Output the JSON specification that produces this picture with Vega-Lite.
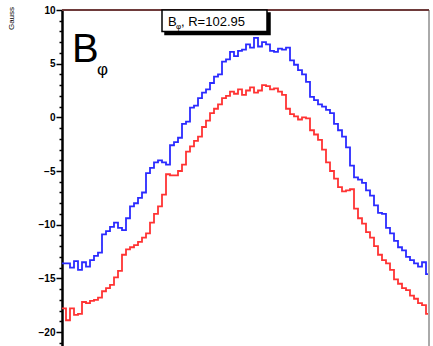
{
  "$schema": "https://vega.github.io/schema/vega-lite/v6.json",
  "width": 367,
  "height": 336,
  "autosize": {"type": "none"},
  "padding": {"left": 62, "top": 10, "right": 4, "bottom": 0},
  "background": "white",
  "config": {
    "view": {"stroke": null},
    "font": "Liberation Sans",
    "axisY": {
      "labelOverlap": false,
      "labelBound": false,
      "labelFlush": false,
      "labelFontSize": 10,
      "labelFontWeight": "bold",
      "labelColor": "#000",
      "labelPadding": 1,
      "domainColor": "#000",
      "domainWidth": 2.5,
      "tickColor": "#000",
      "tickWidth": 1.5,
      "grid": false,
      "titleFontSize": 8,
      "titleFontWeight": "normal",
      "titleAngle": -90,
      "titleAlign": "center",
      "titleBaseline": "alphabetic",
      "titleX": -49,
      "titleY": 8
    }
  },
  "datasets": {
    "curves": [
      {"x":0,"b":-13.6,"r":-17.8},{"x":4,"b":-13.6,"r":-18.9},{"x":8,"b":-14.0,"r":-17.8},{"x":12,"b":-13.4,"r":-18.4},{"x":16,"b":-14.2,"r":-18.3},
      {"x":20,"b":-13.5,"r":-17.2},{"x":24,"b":-13.9,"r":-17.3},{"x":28,"b":-13.3,"r":-17.1},{"x":32,"b":-12.9,"r":-17.0},{"x":36,"b":-12.6,"r":-16.8},
      {"x":40,"b":-10.9,"r":-16.2},{"x":44,"b":-10.6,"r":-15.9},{"x":48,"b":-10.2,"r":-15.6},{"x":52,"b":-9.8,"r":-14.9},{"x":56,"b":-10.3,"r":-14.3},
      {"x":60,"b":-10.5,"r":-12.8},{"x":64,"b":-9.4,"r":-12.3},{"x":68,"b":-8.3,"r":-12.1},{"x":72,"b":-8.0,"r":-11.9},{"x":76,"b":-7.5,"r":-11.6},
      {"x":80,"b":-7.0,"r":-11.2},{"x":84,"b":-5.2,"r":-10.8},{"x":88,"b":-4.7,"r":-9.8},{"x":92,"b":-4.2,"r":-9.0},{"x":96,"b":-4.0,"r":-8.3},
      {"x":100,"b":-4.2,"r":-7.2},{"x":104,"b":-4.4,"r":-5.3},{"x":108,"b":-2.6,"r":-5.4},{"x":112,"b":-2.3,"r":-5.4},{"x":116,"b":-1.9,"r":-5.0},
      {"x":120,"b":-0.6,"r":-4.4},{"x":124,"b":-0.4,"r":-3.2},{"x":128,"b":0.9,"r":-2.7},{"x":132,"b":1.1,"r":-2.2},{"x":136,"b":1.8,"r":-1.8},
      {"x":140,"b":2.3,"r":-0.9},{"x":144,"b":2.6,"r":-0.3},{"x":148,"b":3.2,"r":0.4},{"x":152,"b":3.8,"r":0.8},{"x":156,"b":4.0,"r":1.2},
      {"x":160,"b":5.2,"r":1.8},{"x":164,"b":5.4,"r":2.0},{"x":168,"b":6.1,"r":2.4},{"x":172,"b":5.7,"r":2.2},{"x":176,"b":6.2,"r":2.6},
      {"x":180,"b":6.3,"r":2.1},{"x":184,"b":6.8,"r":2.5},{"x":188,"b":6.5,"r":2.8},{"x":192,"b":7.4,"r":2.3},{"x":196,"b":6.6,"r":2.5},
      {"x":200,"b":7.0,"r":3.0},{"x":204,"b":6.8,"r":2.9},{"x":208,"b":6.2,"r":2.6},{"x":212,"b":6.1,"r":2.7},{"x":216,"b":6.4,"r":2.4},
      {"x":220,"b":6.3,"r":2.1},{"x":224,"b":6.5,"r":0.8},{"x":228,"b":5.3,"r":0.3},{"x":232,"b":4.9,"r":0.1},{"x":236,"b":4.4,"r":-0.2},
      {"x":240,"b":4.0,"r":0.0},{"x":244,"b":3.3,"r":-0.1},{"x":248,"b":1.9,"r":-1.2},{"x":252,"b":1.6,"r":-1.6},{"x":256,"b":1.2,"r":-2.1},
      {"x":260,"b":1.0,"r":-3.0},{"x":264,"b":0.7,"r":-4.2},{"x":268,"b":0.4,"r":-5.0},{"x":272,"b":-0.6,"r":-5.7},{"x":276,"b":-1.2,"r":-6.5},
      {"x":280,"b":-1.8,"r":-6.9},{"x":284,"b":-2.8,"r":-6.8},{"x":288,"b":-4.5,"r":-6.7},{"x":292,"b":-5.6,"r":-8.5},{"x":296,"b":-5.8,"r":-9.4},
      {"x":300,"b":-6.1,"r":-9.9},{"x":304,"b":-6.8,"r":-10.7},{"x":308,"b":-7.3,"r":-11.2},{"x":312,"b":-8.2,"r":-12.0},{"x":316,"b":-8.9,"r":-12.8},
      {"x":320,"b":-9.0,"r":-13.3},{"x":324,"b":-10.3,"r":-13.6},{"x":328,"b":-10.8,"r":-14.2},{"x":332,"b":-11.5,"r":-15.1},{"x":336,"b":-12.1,"r":-15.5},
      {"x":340,"b":-12.4,"r":-15.9},{"x":344,"b":-13.0,"r":-16.1},{"x":348,"b":-13.3,"r":-16.6},{"x":352,"b":-13.6,"r":-16.9},{"x":356,"b":-13.9,"r":-17.3},
      {"x":360,"b":-13.5,"r":-17.5},{"x":364,"b":-14.6,"r":-18.3},{"x":367,"b":-14.6,"r":-18.3}
    ],
    "notes": [
      {"x":10,"y":5.19,"t":"B","size":40},
      {"x":35,"y":3.9,"t":"φ","size":17}
    ],
    "box": [
      {"x1":103,"x2":208,"y1":9.72,"y2":7.71,"k":"shadow"},
      {"x1":100,"x2":205,"y1":10,"y2":7.99,"k":"box"}
    ],
    "boxtext": [
      {"x":106,"y":8.55,"t":"B","size":13},
      {"x":114,"y":8.25,"t":"φ","size":8},
      {"x":119,"y":8.55,"t":", R=102.95","size":13}
    ],
    "one": [{"edge": 367, "top": 10}]
  },
  "layer": [
    {
      "data": {"name": "curves"},
      "transform": [{"fold": ["b", "r"], "as": ["s", "v"]}],
      "mark": {"type": "line", "interpolate": "step-after", "strokeWidth": 1.8, "clip": true},
      "encoding": {
        "x": {"field": "x", "type": "quantitative", "scale": {"domain": [0, 367], "nice": false, "zero": false}, "axis": null},
        "y": {
          "field": "v", "type": "quantitative",
          "scale": {"domain": [-21.3, 10], "nice": false, "zero": false},
          "axis": {
            "values": [-21,-20,-19,-18,-17,-16,-15,-14,-13,-12,-11,-10,-9,-8,-7,-6,-5,-4,-3,-2,-1,0,1,2,3,4,5,6,7,8,9,10],
            "tickCount": 100,
            "format": "d",
            "labelExpr": "datum.value % 5 === 0 ? datum.label : ''",
            "tickSize": {"condition": {"test": "datum.value % 5 === 0", "value": 6}, "value": 3},
            "title": "Gauss"
          }
        },
        "color": {"field": "s", "type": "nominal", "scale": {"domain": ["b", "r"], "range": ["#2b2bff", "#ff3333"]}, "legend": null}
      }
    },
    {
      "data": {"name": "one"},
      "mark": {"type": "rule", "color": "#aaaaaa", "strokeWidth": 2},
      "encoding": {"x": {"field": "edge", "type": "quantitative"}}
    },
    {
      "data": {"name": "one"},
      "mark": {"type": "rule", "color": "#6e3a3a", "strokeWidth": 2},
      "encoding": {"y": {"field": "top", "type": "quantitative"}}
    },
    {
      "data": {"name": "box"},
      "mark": {"type": "rect", "strokeWidth": 1.5},
      "encoding": {
        "x": {"field": "x1", "type": "quantitative"},
        "x2": {"field": "x2"},
        "y": {"field": "y1", "type": "quantitative"},
        "y2": {"field": "y2"},
        "fill": {"field": "k", "type": "nominal", "scale": {"domain": ["shadow", "box"], "range": ["#000000", "#ffffff"]}, "legend": null},
        "stroke": {"value": "#000"}
      }
    },
    {
      "data": {"name": "boxtext"},
      "mark": {"type": "text", "align": "left", "baseline": "alphabetic", "color": "#000"},
      "encoding": {
        "x": {"field": "x", "type": "quantitative"},
        "y": {"field": "y", "type": "quantitative"},
        "text": {"field": "t"},
        "size": {"field": "size", "type": "quantitative", "scale": null}
      }
    },
    {
      "data": {"name": "notes"},
      "mark": {"type": "text", "align": "left", "baseline": "alphabetic", "color": "#000", "font": "Liberation Sans"},
      "encoding": {
        "x": {"field": "x", "type": "quantitative"},
        "y": {"field": "y", "type": "quantitative"},
        "text": {"field": "t"},
        "size": {"field": "size", "type": "quantitative", "scale": null}
      }
    }
  ]
}
